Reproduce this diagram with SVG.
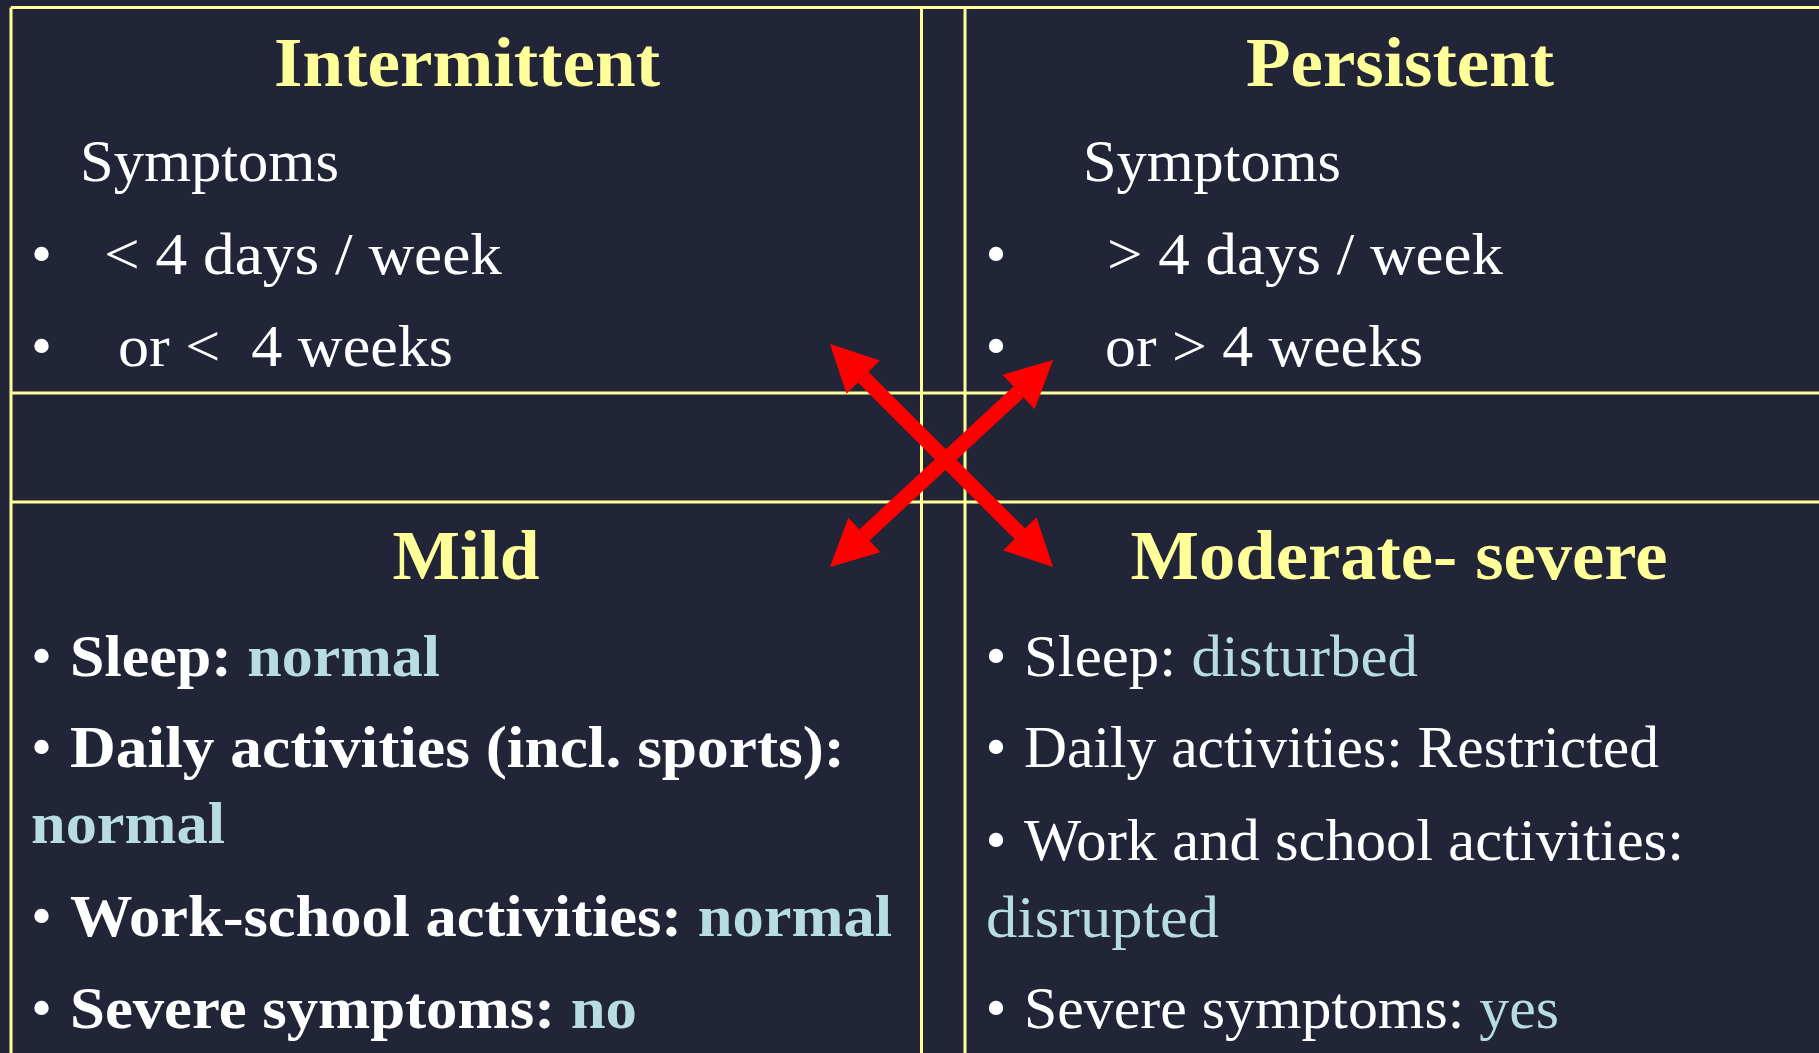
<svg xmlns="http://www.w3.org/2000/svg" width="1819" height="1053" viewBox="0 0 1819 1053">
  <style>
    .bg { fill: #222538; }
    .grid { stroke: #FFFF99; stroke-width: 3; fill: none; }
    text { font-family: "Liberation Serif", "Times New Roman", serif; }
    .title { font-size: 70px; font-weight: bold; fill: #FFFF99; text-anchor: middle; }
    .body { font-size: 60px; fill: #FFFFFF; }
    .b { font-weight: bold; }
    .hl { fill: #B7DDE3; }
    .dot { font-size: 60px; fill: #FFFFFF; }
    .arrow { stroke: #FF0000; stroke-width: 15; fill: none; }
  </style>
  <defs>
    <marker id="head" markerUnits="userSpaceOnUse" markerWidth="48" markerHeight="48"
            viewBox="0 -24 48 48" refX="0" refY="0" orient="auto-start-reverse" overflow="visible">
      <path d="M0,-23.5 L47,0 L0,23.5 Z" fill="#FF0000"/>
    </marker>
  </defs>

  <rect class="bg" x="0" y="0" width="1819" height="1053"/>

  <!-- table rules -->
  <g id="grid">
    <line class="grid" x1="11" y1="7.5" x2="1819" y2="7.5"/>
    <line class="grid" x1="11" y1="7.5" x2="11" y2="1053"/>
    <line class="grid" x1="921.5" y1="7.5" x2="921.5" y2="1053"/>
    <line class="grid" x1="965" y1="7.5" x2="965" y2="1053"/>
    <line class="grid" x1="11" y1="393" x2="1819" y2="393"/>
    <line class="grid" x1="11" y1="502" x2="1819" y2="502"/>
  </g>

  <!-- upper left: intermittent -->
  <g id="intermittent">
    <text class="title" x="467" y="86" textLength="386" lengthAdjust="spacingAndGlyphs">Intermittent</text>
    <text class="body" x="80" y="181" textLength="259" lengthAdjust="spacingAndGlyphs">Symptoms</text>
    <text class="dot" x="31" y="274">•</text>
    <text class="body" x="104" y="274" textLength="398" lengthAdjust="spacingAndGlyphs">&lt; 4 days / week</text>
    <text class="dot" x="31" y="366">•</text>
    <text class="body" x="118" y="366" xml:space="preserve" textLength="335" lengthAdjust="spacingAndGlyphs">or &lt;  4 weeks</text>
  </g>

  <!-- upper right: persistent -->
  <g id="persistent">
    <text class="title" x="1400" y="86" textLength="308" lengthAdjust="spacingAndGlyphs">Persistent</text>
    <text class="body" x="1083" y="181" textLength="258" lengthAdjust="spacingAndGlyphs">Symptoms</text>
    <text class="dot" x="985.5" y="274">•</text>
    <text class="body" x="1107" y="274" textLength="396" lengthAdjust="spacingAndGlyphs">&gt; 4 days / week</text>
    <text class="dot" x="985.5" y="366">•</text>
    <text class="body" x="1105" y="366" textLength="318" lengthAdjust="spacingAndGlyphs">or &gt; 4 weeks</text>
  </g>

  <!-- lower left: mild -->
  <g id="mild">
    <text class="title" x="466" y="579" textLength="147" lengthAdjust="spacingAndGlyphs">Mild</text>
    <text class="dot" x="31" y="676">•</text>
    <text class="body b" x="70" y="676" textLength="370" lengthAdjust="spacingAndGlyphs">Sleep: <tspan class="hl">normal</tspan></text>
    <text class="dot" x="31" y="767">•</text>
    <text class="body b" x="70" y="767" textLength="775" lengthAdjust="spacingAndGlyphs">Daily activities (incl. sports):</text>
    <text class="body b hl" x="31" y="843" textLength="194" lengthAdjust="spacingAndGlyphs">normal</text>
    <text class="dot" x="31" y="936">•</text>
    <text class="body b" x="70" y="936" textLength="822" lengthAdjust="spacingAndGlyphs">Work-school activities: <tspan class="hl">normal</tspan></text>
    <text class="dot" x="31" y="1028">•</text>
    <text class="body b" x="70" y="1028" textLength="567" lengthAdjust="spacingAndGlyphs">Severe symptoms: <tspan class="hl">no</tspan></text>
  </g>

  <!-- lower right: moderate-severe -->
  <g id="moderate-severe">
    <text class="title" x="1399" y="579" textLength="537" lengthAdjust="spacingAndGlyphs">Moderate- severe</text>
    <text class="dot" x="985.5" y="676">•</text>
    <text class="body" x="1024" y="676" textLength="394" lengthAdjust="spacingAndGlyphs">Sleep: <tspan class="hl">disturbed</tspan></text>
    <text class="dot" x="985.5" y="767">•</text>
    <text class="body" x="1024" y="767" textLength="635" lengthAdjust="spacingAndGlyphs">Daily activities: Restricted</text>
    <text class="dot" x="985.5" y="860">•</text>
    <text class="body" x="1024" y="860" textLength="660" lengthAdjust="spacingAndGlyphs">Work and school activities:</text>
    <text class="body hl" x="986" y="937" textLength="233" lengthAdjust="spacingAndGlyphs">disrupted</text>
    <text class="dot" x="985.5" y="1028">•</text>
    <text class="body" x="1024" y="1028" textLength="535" lengthAdjust="spacingAndGlyphs">Severe symptoms: <tspan class="hl">yes</tspan></text>
  </g>

  <!-- crossing double-headed arrows -->
  <g id="connectors">
    <line class="arrow" x1="863.2" y1="377.2" x2="1019.8" y2="533.8" marker-start="url(#head)" marker-end="url(#head)"/>
    <line class="arrow" x1="864.4" y1="535" x2="1018.6" y2="392" marker-start="url(#head)" marker-end="url(#head)"/>
  </g>
</svg>
